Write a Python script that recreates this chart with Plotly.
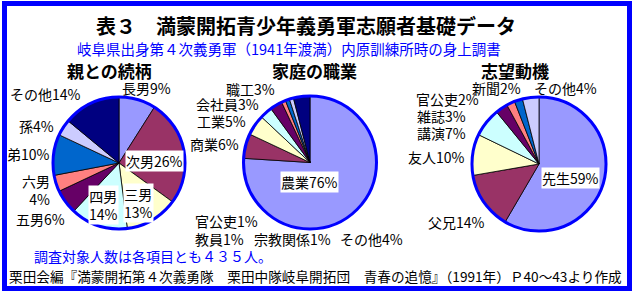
import plotly.graph_objects as go

W, H = 634, 294

# ---------------- data ----------------
rel_labels = ["長男", "次男", "三男", "四男", "五男", "六男", "弟", "孫", "その他"]
rel_values = [9, 26, 13, 14, 6, 4, 10, 4, 14]

job_labels = ["農業", "商業", "工業", "会社員", "職工", "官公吏", "教員", "宗教関係", "その他"]
job_values = [76, 6, 5, 3, 3, 1, 1, 1, 4]

mot_labels = ["先生", "父兄", "友人", "講演", "雑誌", "官公吏", "新聞", "その他"]
mot_values = [59, 14, 10, 7, 3, 2, 2, 4]

pie_titles = ["親との続柄", "家庭の職業", "志望動機"]
main_title = "表３　満蒙開拓青少年義勇軍志願者基礎データ"
subtitle = "岐阜県出身第４次義勇軍（1941年渡満）内原訓練所時の身上調書"
note = "調査対象人数は各項目とも４３５人。"
source = "栗田会編『満蒙開拓第４次義勇隊　栗田中隊岐阜開拓団　青春の追憶』（1991年）Ｐ40～43より作成"

# ---------------- styles ----------------
PALETTE = ["#9999FF", "#993366", "#FFFFCC", "#CCFFFF", "#660066",
           "#FF8080", "#0066CC", "#CCCCFF", "#000080"]
PALETTE3 = ["#9999FF", "#993366", "#FFFFCC", "#CCFFFF", "#660066",
            "#FF8080", "#0066CC", "#CCCCFF"]
FONT = "Noto Sans CJK JP"
BLUE = "#0000FF"

# pie geometry (pixel centre, radius)
pies = [
    dict(labels=rel_labels, values=rel_values, colors=PALETTE, cx=119, cy=163, r=66),
    dict(labels=job_labels, values=job_values, colors=PALETTE, cx=310, cy=162.5, r=66.5),
    dict(labels=mot_labels, values=mot_values, colors=PALETTE3, cx=539, cy=164, r=67),
]

# label placement (pixel centre) + line breaks + white box
label_pos = [
    {  # 親との続柄
        "長男": (146, 88, False, False), "次男": (154, 160.5, False, True),
        "三男": (138, 203, True, True), "四男": (103, 205, True, True),
        "五男": (40, 219, False, False), "六男": (36, 190, True, False),
        "弟": (28.5, 154, False, False), "孫": (36, 126, False, False),
        "その他": (45, 94, False, False),
    },
    {  # 家庭の職業
        "農業": (309, 182, False, True), "商業": (214, 144, False, False),
        "工業": (221.5, 121, False, False), "会社員": (227.5, 104, False, False),
        "職工": (250, 89, False, False), "官公吏": (226, 221, False, False),
        "教員": (219, 238.5, False, False), "宗教関係": (292, 238.5, False, False),
        "その他": (371, 238.5, False, False),
    },
    {  # 志望動機
        "先生": (570, 178, False, True), "父兄": (456.5, 221.5, False, False),
        "友人": (436, 156.5, False, False), "講演": (441.7, 132.5, False, False),
        "雑誌": (441.7, 116, False, False), "官公吏": (447.5, 99, False, False),
        "新聞": (496, 88, False, False), "その他": (565, 88, False, False),
    },
]
title_pos = [(109.5, 70), (314, 70), (514.7, 70)]


def px(x):
    return x / W


def py(y):
    return 1 - y / H


def dom(cx, cy, r):
    return dict(x=[(cx - r) / W, (cx + r) / W], y=[1 - (cy + r) / H, 1 - (cy - r) / H])


fig = go.Figure()
annotations = []

for i, p in enumerate(pies):
    d = dom(p["cx"], p["cy"], p["r"])
    fig.add_trace(go.Pie(
        labels=p["labels"], values=p["values"], domain=d,
        sort=False, direction="clockwise", rotation=0,
        marker=dict(colors=p["colors"], line=dict(color="#000000", width=0.8)),
        textinfo="none", hoverinfo="label+percent", showlegend=False,
    ))
    # blue outer ring
    fig.add_trace(go.Pie(
        labels=["outline"], values=[1], domain=d, sort=False,
        marker=dict(colors=["rgba(0,0,0,0)"], line=dict(color=BLUE, width=3)),
        textinfo="none", hoverinfo="skip", showlegend=False,
    ))
    for lab, val in zip(p["labels"], p["values"]):
        x, y, brk, box = label_pos[i][lab]
        txt = f"{lab}<br>{val}%" if brk else f"{lab}{val}%"
        annotations.append(dict(
            x=px(x), y=py(y), xref="paper", yref="paper", text=txt,
            showarrow=False, xanchor="center", yanchor="middle",
            align="right" if lab == "六男" else "center",
            font=dict(family=FONT, size=14, color="#000000"),
            bgcolor="#FFFFFF" if box else "rgba(0,0,0,0)", borderpad=0,
        ))
    tx, ty = title_pos[i]
    annotations.append(dict(
        x=px(tx), y=py(ty), xref="paper", yref="paper", text=f"<b>{pie_titles[i]}</b>",
        showarrow=False, xanchor="center", yanchor="middle",
        font=dict(family=FONT, size=17, color="#000000"),
    ))

annotations += [
    dict(x=px(305.5), y=py(26), xref="paper", yref="paper", text=f"<b>{main_title}</b>",
         showarrow=False, xanchor="center", yanchor="middle",
         font=dict(family=FONT, size=20, color="#000000")),
    dict(x=px(288.5), y=py(48.5), xref="paper", yref="paper", text=subtitle,
         showarrow=False, xanchor="center", yanchor="middle",
         font=dict(family=FONT, size=14.5, color=BLUE)),
    dict(x=px(32), y=py(256), xref="paper", yref="paper", text=note,
         showarrow=False, xanchor="left", yanchor="middle",
         font=dict(family=FONT, size=14, color=BLUE)),
    dict(x=px(7), y=py(276), xref="paper", yref="paper", text=source,
         showarrow=False, xanchor="left", yanchor="middle",
         font=dict(family=FONT, size=13.65, color="#000000")),
]

fig.update_layout(
    width=W, height=H, margin=dict(l=0, r=0, t=0, b=0),
    paper_bgcolor="#FFFFFF", plot_bgcolor="#FFFFFF",
    annotations=annotations,
    shapes=[dict(type="rect", xref="paper", yref="paper",
                 x0=px(4.5), x1=px(629.5), y0=py(288.5), y1=py(3.5),
                 line=dict(color=BLUE, width=5), fillcolor="rgba(0,0,0,0)")],
)

fig.write_html("out.html")
